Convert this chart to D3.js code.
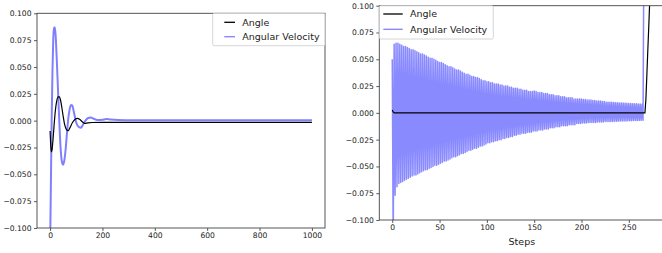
<!DOCTYPE html>
<html>
<head>
<meta charset="utf-8">
<script src="https://cdn.jsdelivr.net/npm/d3@7"></script>
<style>
  body { margin: 0; background: #fff; }
  svg { display: block; font-family: "DejaVu Sans", sans-serif; }
  .tick text { fill: #222; }
</style>
</head>
<body>
<div id="chart"></div>
<script>
// ---- left panel: 1000 steps at the turning points
var leftVelSteps = [0,3,6,9,12,15,18,21,25,30,35,40,45,50,55,60,65,70,75,80,85,90,100,110,118,125,135,145,155,165,180,200,215,230,260,300,400,600,800,1000];
var leftVelocity = [-0.12,-0.06,0.0,0.045,0.075,0.086,0.087,0.08,0.06,0.03,0.0,-0.025,-0.038,-0.041,-0.036,-0.025,-0.01,0.003,0.011,0.0145,0.014,0.009,-0.002,-0.006,-0.0066,-0.004,0.0,0.0025,0.003,0.002,0.0005,0.0008,0.0015,0.001,0.0005,0.0004,0.0003,0.0003,0.0003,0.0003];
var leftAngleSteps = [0,3,5,8,12,16,20,25,30,34,40,45,50,55,60,65,69,75,85,95,104,115,125,132,145,160,200,1000];
var leftAngle = [-0.0096,-0.025,-0.029,-0.026,-0.015,-0.002,0.009,0.018,0.022,0.0223,0.019,0.012,0.004,-0.003,-0.007,-0.009,-0.0094,-0.007,-0.002,0.001,0.0022,0.0008,-0.0015,-0.0025,-0.002,-0.0017,-0.0016,-0.0016];

// ---- right panel: one value per step (0..274)
var rightVelocity = [
  0.050,-0.125,0.064,-0.077,0.065,-0.069,0.065,-0.066,0.064,-0.065,
  0.063,-0.064,0.062,-0.063,0.062,-0.062,0.061,-0.061,0.060,-0.060,
  0.059,-0.059,0.059,-0.058,0.058,-0.058,0.057,-0.057,0.056,-0.056,
  0.055,-0.055,0.055,-0.054,0.054,-0.053,0.053,-0.053,0.052,-0.052,
  0.051,-0.051,0.051,-0.050,0.050,-0.049,0.049,-0.049,0.048,-0.048,
  0.047,-0.047,0.047,-0.046,0.046,-0.045,0.045,-0.045,0.044,-0.044,
  0.043,-0.043,0.043,-0.042,0.042,-0.041,0.041,-0.041,0.040,-0.040,
  0.040,-0.039,0.039,-0.038,0.038,-0.038,0.037,-0.037,0.036,-0.036,
  0.036,-0.035,0.035,-0.035,0.034,-0.034,0.034,-0.033,0.033,-0.033,
  0.033,-0.032,0.032,-0.031,0.031,-0.031,0.030,-0.030,0.030,-0.029,
  0.029,-0.028,0.029,-0.028,0.028,-0.027,0.028,-0.027,0.027,-0.026,
  0.027,-0.026,0.027,-0.025,0.026,-0.025,0.026,-0.024,0.025,-0.024,
  0.025,-0.023,0.025,-0.023,0.024,-0.022,0.024,-0.022,0.023,-0.021,
  0.023,-0.021,0.023,-0.020,0.022,-0.020,0.022,-0.019,0.021,-0.019,
  0.021,-0.019,0.021,-0.018,0.020,-0.018,0.020,-0.018,0.020,-0.017,
  0.0205,-0.017,0.020,-0.017,0.019,-0.016,0.019,-0.016,0.019,-0.016,
  0.018,-0.015,0.018,-0.015,0.018,-0.015,0.017,-0.014,0.017,-0.014,
  0.017,-0.014,0.016,-0.013,0.016,-0.013,0.016,-0.013,0.015,-0.012,
  0.015,-0.012,0.015,-0.012,0.014,-0.012,0.014,-0.011,0.014,-0.011,
  0.014,-0.011,0.013,-0.011,0.013,-0.010,0.013,-0.010,0.013,-0.010,
  0.013,-0.0095,0.0125,-0.0095,0.0125,-0.0095,0.012,-0.009,0.012,-0.009,
  0.012,-0.009,0.0115,-0.009,0.0115,-0.009,0.011,-0.0085,0.011,-0.0085,
  0.011,-0.0085,0.0105,-0.0085,0.0105,-0.008,0.010,-0.008,0.010,-0.008,
  0.010,-0.008,0.0098,-0.008,0.0096,-0.0078,0.0095,-0.0078,0.0094,-0.0077,
  0.0093,-0.0076,0.0092,-0.0076,0.0091,-0.0075,0.009,-0.0075,0.0089,-0.0074,
  0.0088,-0.0073,0.0087,-0.0073,0.0086,-0.0072,0.0085,-0.0072,0.0084,-0.0071,
  0.0083,-0.007,0.0082,-0.007,0.0081,-0.0068,
  0.16,0.28,0.40,0.52,0.64,0.76,0.88,1.0,1.1
];
var rightAngleSteps = [0,1,2,267,268,269,270,271,272,273,274];
var rightAngle = [0.0027,0.0008,0.0,0.0,0.012,0.034,0.057,0.079,0.102,0.125,0.148];

var yTicks = [-0.1,-0.075,-0.05,-0.025,0,0.025,0.05,0.075,0.1];
var leftXTicks = [0,200,400,600,800,1000];
var rightXTicks = [0,50,100,150,200,250];
var seriesNames = ["Angle", "Angular Velocity"];
var seriesColors = ["#000", "#8080ff"];

var svg = d3.select("#chart").append("svg").attr("width", 662).attr("height", 253);
var fmt = d3.format(".3f");

function panel(p) {
  var x = d3.scaleLinear().domain(p.xDomain).range([p.left, p.right]);
  var y = d3.scaleLinear().domain([-0.1, 0.1]).range([p.bottom, p.top]);
  var g = svg.append("g");

  g.append("clipPath").attr("id", p.id + "_clip")
    .append("rect").attr("x", p.left).attr("y", p.top)
    .attr("width", p.right - p.left).attr("height", p.bottom - p.top);

  var plot = g.append("g").attr("clip-path", "url(#" + p.id + "_clip)");

  // velocity first, angle drawn on top
  var velLine = d3.line().x(function(d) { return x(d[0]); }).y(function(d) { return y(d[1]); });
  var angLine = d3.line().x(function(d) { return x(d[0]); }).y(function(d) { return y(d[1]); });
  if (p.smooth) { velLine.curve(d3.curveMonotoneX); angLine.curve(d3.curveMonotoneX); }

  plot.append("path").datum(d3.zip(p.velSteps, p.vel))
    .attr("d", velLine).style("fill", "none")
    .style("stroke", p.velColor || seriesColors[1])
    .style("stroke-width", p.velWidth).style("stroke-linejoin", "round");
  plot.append("path").datum(d3.zip(p.angSteps, p.ang))
    .attr("d", angLine).style("fill", "none")
    .style("stroke", seriesColors[0]).style("stroke-width", 1.2);

  // axes
  var xAxis = d3.axisBottom(x).tickValues(p.xTicks).tickSize(3).tickPadding(2).tickFormat(d3.format("d"));
  var yAxis = d3.axisLeft(y).tickValues(yTicks).tickSize(3).tickPadding(2.5).tickFormat(fmt);
  var gx = g.append("g").attr("transform", "translate(0," + p.bottom + ")").call(xAxis);
  var gy = g.append("g").attr("transform", "translate(" + p.left + ",0)").call(yAxis);
  [gx, gy].forEach(function(a) {
    a.select(".domain").remove();
    a.selectAll(".tick line").style("stroke", "#333").style("stroke-width", 0.8);
    a.selectAll(".tick text").style("font-size", "7.6px").style("font-family", "DejaVu Sans");
  });

  // frame
  g.append("rect").attr("x", p.left).attr("y", p.top)
    .attr("width", p.right - p.left).attr("height", p.bottom - p.top)
    .style("fill", "none").style("stroke", "#444").style("stroke-width", 0.9);

  // legend
  var L = p.legend;
  var lg = g.append("g");
  lg.append("rect").attr("x", L.x).attr("y", L.y).attr("width", L.w).attr("height", L.h)
    .attr("rx", 1.5).style("fill", "#fff").style("fill-opacity", 0.8)
    .style("stroke", "#ccc").style("stroke-width", 0.8);
  seriesNames.forEach(function(name, i) {
    var cy = L.y + L.row0 + i * L.rowStep;
    lg.append("line").attr("x1", L.x + L.lineX0).attr("x2", L.x + L.lineX1)
      .attr("y1", cy).attr("y2", cy)
      .style("stroke", seriesColors[i]).style("stroke-width", 1.3);
    lg.append("text").attr("x", L.x + L.textX).attr("y", cy).attr("dy", "0.35em")
      .style("font-size", "9.5px").style("fill", "#222").text(name);
  });

  if (p.xLabel) {
    g.append("text").attr("x", (p.left + p.right) / 2).attr("y", p.bottom + 22).attr("dy", "0.35em")
      .attr("text-anchor", "middle").style("font-size", "9.5px").style("fill", "#222").text(p.xLabel);
  }
}

panel({
  id: "left", left: 37, right: 325, top: 13.3, bottom: 228,
  xDomain: [-50, 1050], xTicks: leftXTicks, smooth: true, velWidth: 2,
  velSteps: leftVelSteps, vel: leftVelocity, angSteps: leftAngleSteps, ang: leftAngle,
  legend: {x: 212.7, y: 13.3, w: 112.3, h: 32.4, row0: 9, rowStep: 14.4, lineX0: 11.6, lineX1: 22.3, textX: 29.6}
});

panel({
  id: "right", left: 379.3, right: 664.5, top: 5.7, bottom: 220,
  xDomain: [-13.7, 287.7], xTicks: rightXTicks, smooth: false, velWidth: 1.5, velColor: "#8a8aff",
  velSteps: d3.range(rightVelocity.length), vel: rightVelocity, angSteps: rightAngleSteps, ang: rightAngle,
  legend: {x: 379.3, y: 5.7, w: 114, h: 33.3, row0: 8.3, rowStep: 15.3, lineX0: 4, lineX1: 23.4, textX: 30.7},
  xLabel: "Steps"
});
</script>
</body>
</html>
